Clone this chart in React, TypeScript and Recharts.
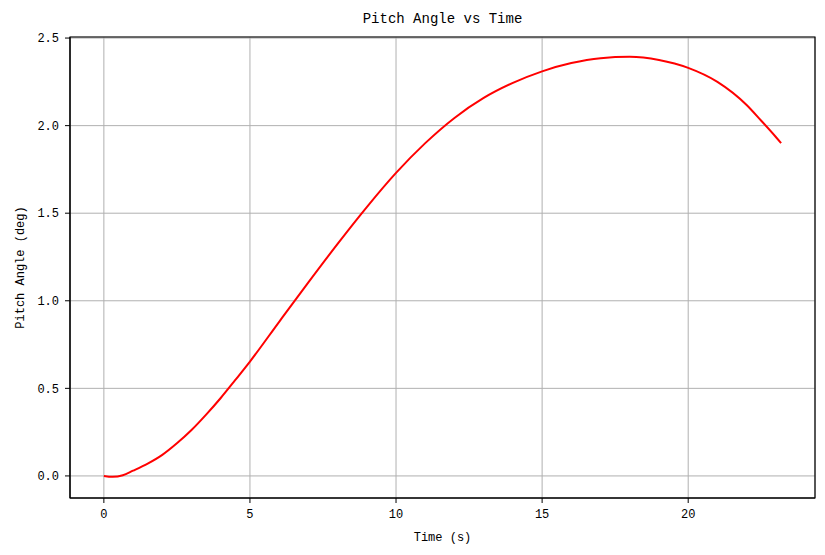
import React from "react";
import {
  LineChart,
  Line,
  XAxis,
  YAxis,
  CartesianGrid,
  ReferenceArea,
} from "recharts";

document.body.style.margin = "0";

const FONT = "'Liberation Mono', 'DejaVu Sans Mono', monospace";

// time (s) and pitch angle (deg)
const times = [
  0, 0.3, 0.65, 1, 1.5, 2, 2.5, 3, 3.5, 4, 4.5, 5, 6, 7, 8, 9, 10, 11, 12, 13,
  14, 15, 16, 17, 18, 19, 20, 21, 22, 22.5, 23, 23.18,
];
const pitch = [
  0, -0.005, 0.004, 0.03, 0.07, 0.12, 0.186, 0.262, 0.35, 0.445, 0.548, 0.653,
  0.88, 1.105, 1.325, 1.535, 1.73, 1.9, 2.044, 2.158, 2.244, 2.31, 2.357,
  2.385, 2.393, 2.375, 2.33, 2.25, 2.118, 2.028, 1.935, 1.9,
];

const xTicks = [0, 5, 10, 15, 20];
const yTicks = [0, 0.5, 1, 1.5, 2, 2.5];
const xDomain: [number, number] = [-1.159, 24.34];
const yDomain: [number, number] = [-0.126, 2.506];

const data = times.map((t, i) => ({ t, v: pitch[i] }));

const W = 825;
const H = 555;
const PLOT = { left: 70, right: 815, top: 37, bottom: 498 };

export default function App() {
  const cx = (PLOT.left + PLOT.right) / 2;
  const cy = (PLOT.top + PLOT.bottom) / 2;
  return (
    <div style={{ position: "relative", width: W, height: H, background: "#fff" }}>
      <LineChart
        width={W}
        height={H}
        data={data}
        margin={{ top: PLOT.top, right: W - PLOT.right, bottom: 27, left: 0 }}
      >
        <CartesianGrid stroke="#b0b0b0" strokeWidth={1} />
        <XAxis
          dataKey="t"
          type="number"
          domain={xDomain}
          ticks={xTicks}
          allowDataOverflow
          height={30}
          tickSize={5}
          tickMargin={6}
          stroke="#000"
          tick={{ fill: "#000", fontSize: 12, fontFamily: FONT }}
        />
        <YAxis
          type="number"
          domain={yDomain}
          ticks={yTicks}
          allowDataOverflow
          width={PLOT.left}
          tickSize={5}
          tickMargin={6}
          stroke="#000"
          tickFormatter={(v: number) => v.toFixed(1)}
          tick={{ fill: "#000", fontSize: 12, fontFamily: FONT }}
        />
        <Line
          dataKey="v"
          type="monotoneX"
          stroke="#ff0000"
          strokeWidth={2}
          dot={false}
          isAnimationActive={false}
        />
        <ReferenceArea
          x1={xDomain[0]}
          x2={xDomain[1]}
          y1={yDomain[0]}
          y2={yDomain[1]}
          fill="none"
          fillOpacity={0}
          stroke="#000"
          strokeWidth={1.2}
          ifOverflow="visible"
        />
        <text x={cx} y={23} textAnchor="middle" fontFamily={FONT} fontSize={14} fill="#000">
          Pitch Angle vs Time
        </text>
        <text x={cx} y={541} textAnchor="middle" fontFamily={FONT} fontSize={12} fill="#000">
          Time (s)
        </text>
        <text
          x={24}
          y={cy}
          textAnchor="middle"
          fontFamily={FONT}
          fontSize={12}
          fill="#000"
          transform={`rotate(-90 24 ${cy})`}
        >
          Pitch Angle (deg)
        </text>
      </LineChart>
    </div>
  );
}
